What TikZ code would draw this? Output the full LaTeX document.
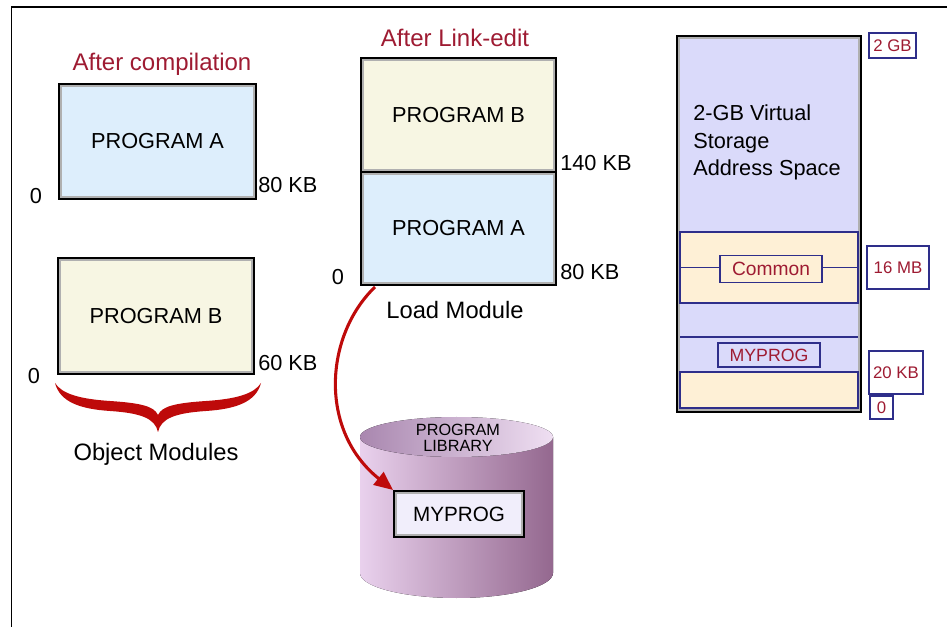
\documentclass[tikz,border=0pt]{standalone}
\usepackage{fontspec}
\setmainfont{Liberation Sans}
\usetikzlibrary{arrows.meta}
\definecolor{dkred}{HTML}{9E1B32}
\definecolor{arred}{HTML}{BE0A0A}
\definecolor{navyc}{HTML}{2E2E8A}
\definecolor{lblue}{HTML}{DDEEFC}
\definecolor{lyel}{HTML}{F7F6E3}
\definecolor{vsfill}{HTML}{DADAFA}
\definecolor{peach}{HTML}{FEF0D6}
\definecolor{boxgray}{HTML}{B0B0B0}
\definecolor{cmyfill}{HTML}{F1EEFB}
\definecolor{cylL}{HTML}{E9D1ED}
\definecolor{cylR}{HTML}{94688F}
\definecolor{topL}{HTML}{A987AF}
\definecolor{topR}{HTML}{EFDFF2}
\begin{document}
\begin{tikzpicture}[x=0.75pt,y=-0.75pt,
  dbox/.style={draw=black, line width=1.5pt, inner sep=0pt,
    font=\fontsize{16.3}{19}\selectfont,
    path picture={\draw[draw=boxgray, line width=4.6pt] (path picture bounding box.south west) rectangle (path picture bounding box.north east);}},
  lbl/.style={draw=navyc, line width=0.9pt, fill=white, text=dkred, inner sep=0pt, font=\fontsize{12.6}{14}\selectfont},
  band/.style={draw=navyc, line width=0.9pt, fill=peach, inner sep=0pt},
  txt/.style={inner sep=0pt, font=\fontsize{16.3}{19}\selectfont},
  big/.style={inner sep=0pt, font=\fontsize{17.8}{21}\selectfont},
  head/.style={inner sep=0pt, text=dkred, font=\fontsize{18}{21}\selectfont}]
\useasboundingbox (0,0) rectangle (947,627);
% frame
\draw[line width=1.1pt] (11.5,627) -- (11.5,7) -- (947,7);

% headings
\node[head, anchor=base] (h1) at (162,71) {After compilation};
\node[head, anchor=base] (h2) at (455,46.6) {After Link-edit};

% left object modules
\node[dbox, fill=lblue, minimum width=147.75pt, minimum height=86.25pt] (pA1) at (157.5,141.5) {PROGRAM A};
\node[txt, anchor=base] (z1) at (36,204) {0};
\node[txt, anchor=base west] (k1) at (258,193) {80 KB};
\node[dbox, fill=lyel, minimum width=147pt, minimum height=87pt] (pB1) at (156,316) {PROGRAM B};
\node[txt, anchor=base] (z2) at (34,384) {0};
\node[txt, anchor=base west] (k2) at (258,371) {60 KB};

% brace
\fill[arred] (55,383) .. controls (60,402) and (80,409) .. (110,411)
  .. controls (140,413) and (155,418) .. (158,432)
  .. controls (161,418) and (176,413) .. (206,411)
  .. controls (236,409) and (256,402) .. (261,383)
  .. controls (254,394) and (236,399) .. (206,401)
  .. controls (176,403) and (162,406) .. (158,415)
  .. controls (154,406) and (140,403) .. (110,401)
  .. controls (80,399) and (62,394) .. (55,383) -- cycle;
\node[big, anchor=base] (om) at (156,460.5) {Object Modules};

% load module
\node[dbox, fill=lyel, minimum width=146.25pt, minimum height=85.5pt] (pB2) at (458.5,115) {PROGRAM B};
\node[dbox, fill=lblue, minimum width=146.25pt, minimum height=84.75pt] (pA2) at (458.5,228.5) {PROGRAM A};
\node[txt, anchor=base west] (k3) at (560,171) {140 KB};
\node[txt, anchor=base west] (k4) at (560,280) {80 KB};
\node[txt, anchor=base] (z3) at (338,285) {0};
\node[big, anchor=base] (lm) at (455,318.5) {Load Module};

% cylinder
\fill[left color=cylL, right color=cylR] (360,437) -- (360,573)
  arc[start angle=180, end angle=0, x radius=96.5, y radius=25] -- (553,437) -- cycle;
\fill[left color=topL, right color=topR] (456.5,437) ellipse[x radius=96.5, y radius=20];
\node[inner sep=0pt, align=center, font=\fontsize{12.2}{12}\selectfont] (lib) at (458,438) {PROGRAM\\LIBRARY};
\node[dbox, fill=cmyfill, minimum width=97.5pt, minimum height=34.5pt, font=\fontsize{15.5}{18}\selectfont] (cmy) at (459,514) {MYPROG};

% arrow
\coordinate (as) at (375,287);
\draw[arred, line width=2.3pt, -{Triangle[length=14pt,width=12pt]}] (as) .. controls (325,335) and (318,430) .. (cmy.north west);

% address space
\node[dbox, fill=vsfill, minimum width=138pt, minimum height=282pt] (vs) at (769,224) {};
\node[txt, anchor=base west] (t1) at (693,121) {2-GB Virtual};
\node[txt, anchor=base west] (t2) at (693,149) {Storage};
\node[txt, anchor=base west] (t3) at (693,176) {Address Space};
\node[band, minimum width=133.5pt, minimum height=53.25pt] (cband) at (769,267.5) {};
\node[band, minimum width=76.5pt, minimum height=20.25pt, text=dkred, font=\fontsize{14.4}{17}\selectfont] (cbox) at (771,269) {Common};
\draw[navyc, line width=0.9pt] (cband.west) -- (cband.west -| cbox.west);
\draw[navyc, line width=0.9pt] (cband.east -| cbox.east) -- (cband.east);
\coordinate (s1) at (680,337);
\coordinate (s2) at (858,337);
\draw[navyc, line width=0.9pt] (s1) -- (s2);
\node[band, fill=vsfill, minimum width=76.5pt, minimum height=18pt, text=dkred, font=\fontsize{13.3}{16}\selectfont] (mys) at (769,355) {MYPROG};
\node[band, minimum width=133.5pt, minimum height=27pt] (bband) at (769,390) {};

% labels
\node[lbl, minimum width=35.25pt, minimum height=18.75pt] (l2) at (892.5,45.5) {2 GB};
\node[lbl, minimum width=46.5pt, minimum height=32.25pt] (l16) at (898,267.5) {16 MB};
\node[lbl, minimum width=40.5pt, minimum height=32.25pt] (l20) at (896,372.5) {20 KB};
\node[lbl, minimum width=17.25pt, minimum height=17.25pt] (l0) at (881.5,407.5) {0};
\end{tikzpicture}
\end{document}
